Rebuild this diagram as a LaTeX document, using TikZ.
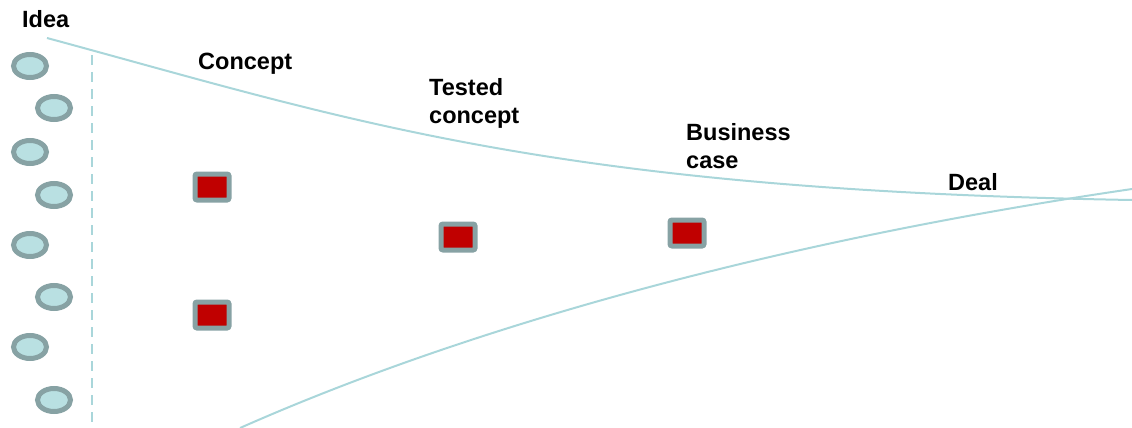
\documentclass[tikz,border=0pt]{standalone}
\usepackage{fontspec}
\setmainfont{Liberation Sans}
\usetikzlibrary{shapes.geometric}
\definecolor{funnelline}{HTML}{A9D6DA}
\definecolor{ideafill}{HTML}{B9E0E2}
\definecolor{ideaedge}{HTML}{87A2A4}
\definecolor{dealred}{HTML}{C00000}
\begin{document}
\begin{tikzpicture}[x=1pt, y=-1pt,
    idea/.style ={ellipse, draw=ideaedge, fill=ideafill, line width=5pt,
                  minimum width=33pt, minimum height=23pt, inner sep=0pt},
    project/.style ={rectangle, draw=ideaedge, fill=dealred, line width=5pt,
                  rounded corners=2pt, minimum width=34pt, minimum height=26pt, inner sep=0pt},
    stage/.style ={anchor=north west, inner sep=0pt, align=left,
                  font=\fontsize{23.5}{28}\selectfont\bfseries},
    funnel/.style ={draw=funnelline, line width=2pt}]
   \useasboundingbox (0,0) rectangle (1132,428);

   % ideas
   \node[idea] (I1) at (30,66)  {};
   \node[idea] (I2) at (54,108) {};
   \node[idea] (I3) at (30,152) {};
   \node[idea] (I4) at (54,195) {};
   \node[idea] (I5) at (30,245) {};
   \node[idea] (I6) at (54,297) {};
   \node[idea] (I7) at (30,347) {};
   \node[idea] (I8) at (54,400) {};

   % projects
   \node[project] (P1) at (212,187) {};
   \node[project] (P2) at (212,315) {};
   \node[project] (P3) at (458,237) {};
   \node[project] (P4) at (687,233) {};

   % stage labels
   \node[stage] (idea)     at (22,10)   {Idea};
   \node[stage] (concept)  at (198,53)  {Concept};
   \node[stage] (tested)   at (429,78)  {Tested\\concept};
   \node[stage] (business) at (686,123) {Business\\case};
   \node[stage] (deal)     at (948,173) {Deal};

   % funnel
   \draw[funnel, dash pattern=on 10pt off 7pt] (92,55) -- (92,425);
   \draw[funnel] (47,38) .. controls (350,120) and (550,190) .. (1132,200);
   \draw[funnel] (240,428) .. controls (450,335) and (750,245) .. (1132,189);
 \end{tikzpicture}
\end{document}
